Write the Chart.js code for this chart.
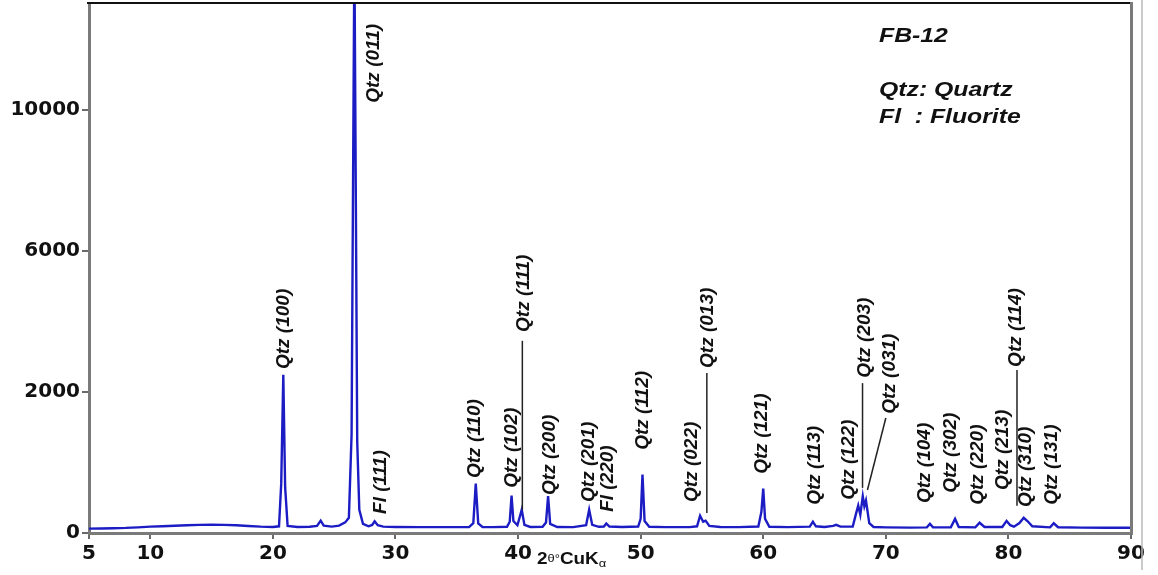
<!DOCTYPE html>
<html>
<head>
<meta charset="utf-8">
<script src="https://cdn.jsdelivr.net/npm/chart.js@4/dist/chart.umd.min.js"></script>
<style>
  html, body { margin: 0; padding: 0; background: #fff; }
  #wrap { width: 1158px; height: 575px; }
</style>
</head>
<body>
<div id="wrap"><canvas id="xrd" width="1158" height="575"></canvas></div>
<script>
// FB-12 diffractogram
const twoTheta = [5.0, 6.0, 7.0, 8.0, 9.0, 10.0, 11.0, 12.0, 13.0, 14.0, 15.0, 16.0, 17.0, 18.0, 19.0, 20.0,
  20.5, 20.68, 20.85, 21.0, 21.2, 22.0, 23.0, 23.6, 23.9, 24.15, 24.8, 25.4, 25.9, 26.2, 26.42, 26.65, 26.88,
  27.05, 27.35, 27.8, 28.1, 28.3, 28.55, 29.0, 30.0, 32.0, 34.0, 36.0, 36.35, 36.55, 36.75, 37.1, 38.0,
  39.1, 39.32, 39.47, 39.62, 39.95, 40.3, 40.52, 41.0, 42.0, 42.28, 42.45, 42.62, 43.2, 44.5, 45.55, 45.8,
  46.05, 46.6, 47.0, 47.2, 47.45, 48.5, 49.8, 50.0, 50.15, 50.32, 50.7, 52.0, 54.0, 54.6, 54.85, 55.1, 55.3,
  55.6, 56.5, 58.0, 59.6, 59.85, 60.0, 60.15, 60.5, 62.0, 63.8, 64.05, 64.3, 65.0, 65.7, 65.95, 66.3, 67.3,
  67.55, 67.75, 67.92, 68.12, 68.25, 68.38, 68.65, 69.0, 70.0, 72.0, 73.35, 73.6, 73.85, 75.3, 75.65, 75.95,
  77.3, 77.65, 78.05, 79.5, 79.85, 80.15, 80.45, 80.9, 81.25, 81.55, 81.95, 83.4, 83.7, 84.05, 86.0, 88.0, 90.0];
const counts = [62, 64, 68, 72, 80, 90, 96, 102, 110, 115, 118, 115, 110, 100, 90, 86,
  95, 700, 2490, 650, 100, 86, 88, 100, 175, 105, 90, 105, 150, 215, 1400, 14500, 1300,
  330, 130, 95, 115, 165, 110, 90, 86, 84, 83, 84, 140, 700, 135, 85, 84,
  88, 160, 530, 170, 110, 330, 115, 86, 88, 150, 525, 130, 85, 84, 110, 330,
  115, 88, 92, 135, 92, 85, 92, 200, 830, 170, 88, 84, 84, 95, 245, 160, 175,
  100, 85, 84, 92, 300, 630, 200, 88, 84, 90, 160, 95, 85, 100, 115, 90, 92,
  260, 390, 260, 520, 380, 460, 140, 85, 80, 76, 80, 130, 82, 80, 200, 85,
  80, 145, 85, 85, 172, 110, 90, 140, 215, 170, 95, 80, 138, 82, 76, 74, 74];

const xTicks = [5, 10, 20, 30, 40, 50, 60, 70, 80, 90];
const yTicks = [0, 2000, 6000, 10000];

// peak names: text, 2theta of label, count at foot of label
const peakNames = ['Qtz (100)', 'Qtz (011)', 'Fl (111)', 'Qtz (110)', 'Qtz (102)', 'Qtz (111)', 'Qtz (200)',
  'Qtz (201)', 'Fl (220)', 'Qtz (112)', 'Qtz (022)', 'Qtz (013)', 'Qtz (121)', 'Qtz (113)', 'Qtz (122)',
  'Qtz (203)', 'Qtz (031)', 'Qtz (104)', 'Qtz (302)', 'Qtz (220)', 'Qtz (213)', 'Qtz (114)', 'Qtz (310)', 'Qtz (131)'];
const nameAt = [20.87, 28.2, 28.8, 36.5, 39.5, 40.45, 42.55, 45.75, 47.35, 50.15, 54.2, 55.45, 59.9, 64.2, 67.0,
  68.3, 70.3, 73.2, 75.3, 77.5, 79.5, 80.6, 81.45, 83.5];
const nameFoot = [2650, 10200, 270, 780, 640, 3700, 540, 440, 300, 1180, 440, 2680, 840, 400, 470,
  2400, 1690, 425, 570, 400, 610, 2710, 370, 400];

// leader lines [2theta1, count1, 2theta2, count2]
const leaders = [[40.35, 3450, 40.35, 330], [55.4, 2540, 55.4, 285], [68.1, 2250, 68.1, 640],
  [70.0, 1630, 68.5, 610], [80.7, 2620, 80.7, 385]];

const legendLines = ['FB-12', '', 'Qtz: Quartz', 'Fl  : Fluorite'];

// y axis of the original is not linear: its ticks sit evenly spaced
function toUnit(v) {
  for (let i = 1; i < yTicks.length; i++) {
    if (v <= yTicks[i] || i === yTicks.length - 1) {
      return (i - 1) + (v - yTicks[i - 1]) / (yTicks[i] - yTicks[i - 1]);
    }
  }
}
function fromUnit(u) {
  let i = Math.min(Math.max(Math.floor(u), 0), yTicks.length - 2);
  return yTicks[i] + (u - i) * (yTicks[i + 1] - yTicks[i]);
}

class SegmentedScale extends Chart.LinearScale {
  buildTicks() {
    return yTicks.map(v => ({ value: v }));
  }
  getPixelForValue(value) {
    if (value === null || isNaN(value)) return NaN;
    return this.getPixelForDecimal((toUnit(value) - toUnit(this.min)) / (toUnit(this.max) - toUnit(this.min)));
  }
  getValueForPixel(pixel) {
    const d = this.getDecimalForPixel(pixel);
    return fromUnit(toUnit(this.min) + d * (toUnit(this.max) - toUnit(this.min)));
  }
}
SegmentedScale.id = 'segmented';
SegmentedScale.defaults = Chart.LinearScale.defaults;
Chart.register(SegmentedScale);

const STRETCH = 1.18;

function stretchedText(ctx, text, x, y, sx, rotate) {
  ctx.save();
  ctx.translate(x, y);
  ctx.scale(sx, 1);
  if (rotate) ctx.rotate(-Math.PI / 2);
  ctx.fillText(text, 0, 0);
  ctx.restore();
}

const decorations = {
  id: 'decorations',
  afterDraw(chart) {
    const ctx = chart.ctx;
    const a = chart.chartArea;
    const xs = chart.scales.x, ys = chart.scales.y;

    // frame
    ctx.save();
    ctx.strokeStyle = '#111';
    ctx.lineWidth = 2;
    ctx.beginPath();
    ctx.moveTo(a.left - 2, 3);
    ctx.lineTo(a.right + 2, 3);
    ctx.stroke();
    ctx.strokeStyle = '#7a7a7a';
    ctx.lineWidth = 3;
    ctx.beginPath();
    ctx.moveTo(a.right + 0.5, 2);
    ctx.lineTo(a.right + 0.5, a.bottom + 2);
    ctx.stroke();
    ctx.strokeStyle = '#b8b8b8';
    ctx.lineWidth = 1.5;
    ctx.beginPath();
    ctx.moveTo(a.right + 11, 0);
    ctx.lineTo(a.right + 11, 570);
    ctx.stroke();

    // leader lines
    ctx.strokeStyle = '#222';
    ctx.lineWidth = 1.5;
    leaders.forEach(l => {
      ctx.beginPath();
      ctx.moveTo(xs.getPixelForValue(l[0]), ys.getPixelForValue(l[1]));
      ctx.lineTo(xs.getPixelForValue(l[2]), ys.getPixelForValue(l[3]));
      ctx.stroke();
    });

    // peak names
    ctx.fillStyle = '#111';
    ctx.font = 'italic bold 19px "Liberation Sans", Arial, sans-serif';
    ctx.textAlign = 'left';
    ctx.textBaseline = 'middle';
    peakNames.forEach((t, i) => {
      stretchedText(ctx, t, xs.getPixelForValue(nameAt[i]), ys.getPixelForValue(nameFoot[i]), 1.0, true);
    });

    // legend block
    ctx.font = 'italic bold 21px "Liberation Sans", Arial, sans-serif';
    legendLines.forEach((t, i) => {
      if (t) stretchedText(ctx, t, 879, 36 + i * 27, STRETCH, false);
    });

    // x axis title: 2θ°CuKα
    ctx.textBaseline = 'alphabetic';
    let x = 537;
    const base = 564;
    const parts = [['2', 'bold 16px "Liberation Sans", Arial', 0], ['θ°', '11px "Liberation Sans", Arial', -2],
      ['CuK', 'bold 16px "Liberation Sans", Arial', 0], ['α', '11px "Liberation Sans", Arial', 3]];
    parts.forEach(p => {
      ctx.font = p[1];
      stretchedText(ctx, p[0], x, base + p[2], STRETCH, false);
      x += ctx.measureText(p[0]).width * STRETCH;
    });
    ctx.restore();
  }
};

const points = twoTheta.map((t, i) => ({ x: t, y: counts[i] }));

new Chart(document.getElementById('xrd').getContext('2d'), {
  type: 'line',
  data: {
    datasets: [{
      label: 'FB-12',
      data: points,
      borderColor: '#1c1cc4',
      borderWidth: 2.4,
      pointRadius: 0,
      tension: 0,
      fill: false
    }]
  },
  options: {
    responsive: false,
    animation: false,
    events: [],
    layout: { padding: { top: 4, right: 27, left: 0, bottom: 0 } },
    plugins: { legend: { display: false }, tooltip: { enabled: false } },
    scales: {
      x: {
        type: 'linear',
        min: 5,
        max: 90,
        afterBuildTicks: s => { s.ticks = xTicks.map(v => ({ value: v })); },
        afterFit: s => { s.height = 42; s.paddingLeft = 0; s.paddingRight = 0; },
        border: { color: '#7a7a7a', width: 3 },
        grid: { drawOnChartArea: false, drawTicks: true, tickLength: 6, color: '#6a6a6a', lineWidth: 2 },
        ticks: {
          autoSkip: false, maxRotation: 0, padding: 3, color: '#111',
          font: { family: 'DejaVu Sans', weight: 'bold', size: 20 }
        }
      },
      y: {
        type: 'segmented',
        min: 0,
        max: 13000,
        afterFit: s => { s.width = 89; s.paddingTop = 0; s.paddingBottom = 0; },
        border: { color: '#7a7a7a', width: 3 },
        grid: { drawOnChartArea: false, drawTicks: true, tickLength: 7, color: '#6a6a6a', lineWidth: 2 },
        ticks: {
          padding: 2, color: '#111', callback: v => String(v),
          font: { family: 'DejaVu Sans', weight: 'bold', size: 20 }
        }
      }
    }
  },
  plugins: [decorations]
});
</script>
</body>
</html>
